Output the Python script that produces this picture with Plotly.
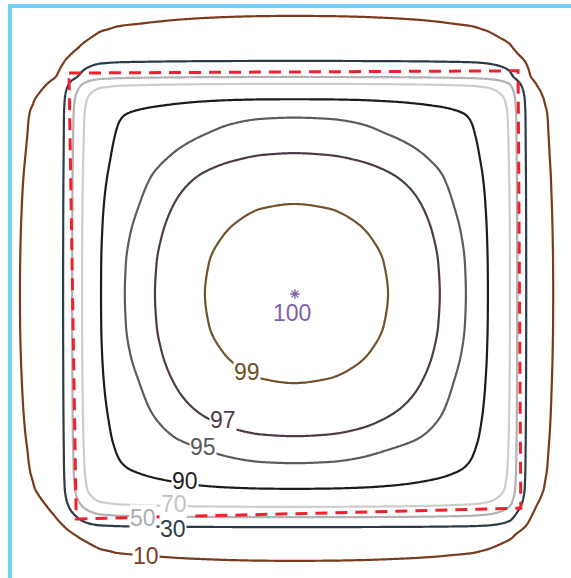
import numpy as np
import plotly.graph_objects as go

# Dose profiles through the central axis (position in cm, relative dose in %)
x_cm = [-6.6, -6.09, -5.9, -5.74, -5.62, -5.52, -5.42, -5.32, -5.22, -5.13, -5.03, -4.93,
        -4.82, -4.71, -4.52, -4.29, -4.12, -3.95, -3.76, -3.42, -3.09, -2.55, -1.98, -1.3,
        -0.7, 0.0,
        0.75, 1.4, 2.09, 2.7, 3.24, 3.53, 3.82, 4.0, 4.17, 4.31, 4.58, 4.8, 4.88, 4.96,
        5.06, 5.16, 5.22, 5.28, 5.34, 5.40, 5.47, 5.54, 5.64, 5.76, 6.3]
x_dose = [9.0, 10.0, 10.5, 11.2, 12.2, 13.6, 15.8, 19.0, 24.0, 30.0, 40.0, 50.0,
          60.0, 70.0, 82.0, 90.0, 92.0, 94.0, 95.0, 96.0, 97.0, 98.2, 99.0, 99.6,
          99.9, 100.0,
          99.9, 99.6, 99.0, 98.2, 97.0, 96.0, 95.0, 94.0, 92.0, 90.0, 82.0, 70.0, 60.0, 50.0,
          40.0, 30.0, 24.0, 19.0, 15.8, 13.6, 12.2, 11.2, 10.5, 10.0, 9.0]

y_cm = [-6.45, -5.93, -5.78, -5.66, -5.56, -5.48, -5.41, -5.33, -5.25, -5.18, -5.07, -4.96,
        -4.85, -4.73, -4.55, -4.33, -4.16, -3.96, -3.76, -3.45, -3.16, -2.6, -1.98, -1.3,
        -0.7, 0.0,
        0.7, 1.3, 2.0, 2.6, 3.13, 3.53, 3.92, 4.08, 4.21, 4.33, 4.52, 4.67, 4.75, 4.82,
        5.0, 5.18, 5.27, 5.38, 5.48, 5.59, 5.69, 5.82, 5.98, 6.18, 6.71]
y_dose = [9.0, 10.0, 10.5, 11.2, 12.2, 13.6, 15.8, 19.0, 24.0, 30.0, 40.0, 50.0,
          60.0, 70.0, 82.0, 90.0, 92.0, 94.0, 95.0, 96.0, 97.0, 98.2, 99.0, 99.6,
          99.9, 100.0,
          99.9, 99.6, 99.0, 98.2, 97.0, 96.0, 95.0, 94.0, 92.0, 90.0, 82.0, 70.0, 60.0, 50.0,
          40.0, 30.0, 24.0, 19.0, 15.8, 13.6, 12.2, 11.2, 10.5, 10.0, 9.0]

# Isodose levels and their colours
levels = [10, 30, 50, 70, 90, 95, 97, 99]
line_colors = ["#7a3b1c", "#2c3c47", "#b2b2b2", "#cdcdcd", "#1c1c1c", "#5c5c5c", "#4e3a48", "#74522a"]
label_colors = ["#7a3f22", "#2e3d48", "#a9adb3", "#c2c2c2", "#1e1e1e", "#565a5e", "#4f3b4a", "#6e5024"]
max_color = "#7f5fae"

# Field edge (50 % outline)
field_x = [-5.0, 4.98, 5.04, -4.84, -5.0]
field_y = [4.91, 4.96, -4.76, -5.0, 4.91]

# Dose maximum
max_x = [0.02]
max_y = [0.0]
max_dose = 100


def pchip(xk, yk, xq):
    """Monotone piecewise-cubic Hermite interpolation (Fritsch-Carlson)."""
    xk = np.asarray(xk, float)
    yk = np.asarray(yk, float)
    h = np.diff(xk)
    d = np.diff(yk) / h
    n = len(xk)
    m = np.zeros(n)
    for k in range(1, n - 1):
        if d[k - 1] * d[k] > 0:
            w1 = 2 * h[k] + h[k - 1]
            w2 = h[k] + 2 * h[k - 1]
            m[k] = (w1 + w2) / (w1 / d[k - 1] + w2 / d[k])
    m[0] = d[0]
    m[-1] = d[-1]
    xq = np.asarray(xq, float)
    i = np.clip(np.searchsorted(xk, xq) - 1, 0, n - 2)
    t = (xq - xk[i]) / h[i]
    h00 = 2 * t**3 - 3 * t**2 + 1
    h10 = t**3 - 2 * t**2 + t
    h01 = -2 * t**3 + 3 * t**2
    h11 = t**3 - t**2
    return h00 * yk[i] + h10 * h[i] * m[i] + h01 * yk[i + 1] + h11 * h[i] * m[i + 1]


# Dose table on a fine grid: product of the two axis profiles
gx = np.arange(x_cm[0], x_cm[-1] + 1e-9, 0.04)
gy = np.arange(y_cm[0], y_cm[-1] + 1e-9, 0.04)
dose = np.outer(pchip(y_cm, y_dose, gy), pchip(x_cm, x_dose, gx)) / 100.0

W, H = 571, 578
CX, CY, SCALE = 294, 294, 45.0  # centre pixel and pixels per cm


def px_to_x(px):
    return (px - CX) / SCALE


def py_to_y(py):
    return (CY - py) / SCALE


fig = go.Figure()

for lvl, col in zip(levels, line_colors):
    fig.add_trace(go.Contour(
        x=gx, y=gy, z=dose,
        autocontour=False,
        contours=dict(start=lvl, end=lvl, size=1, coloring="none", showlabels=False),
        line=dict(color=col, width=2.2, smoothing=1.0),
        showscale=False, hoverinfo="skip",
    ))

fig.add_trace(go.Scatter(
    x=field_x, y=field_y, mode="lines",
    line=dict(color="#f0202e", width=3, dash="12px,8px"),
    hoverinfo="skip", showlegend=False,
))

# Dose maximum marker
fig.add_trace(go.Scatter(
    x=max_x, y=max_y, mode="markers",
    marker=dict(symbol="asterisk-open", size=8, color=max_color,
                line=dict(color=max_color, width=1.3)),
    hoverinfo="skip", showlegend=False,
))

# Label placement (pixel centres)
label_pos = {10: (146, 556), 30: (173, 529), 50: (143, 518), 70: (174, 504),
             90: (185, 481), 95: (203, 447), 97: (223, 420), 99: (247, 372)}

font_family = "Liberation Sans, Arial"
annotations = []
for lvl, col in zip(levels, label_colors):
    px, py = label_pos[lvl]
    annotations.append(dict(
        x=px_to_x(px), y=py_to_y(py), xref="x", yref="y",
        text=str(lvl), showarrow=False,
        font=dict(family=font_family, size=23, color=col),
        bgcolor="white", borderpad=0,
    ))
annotations.append(dict(
    x=px_to_x(292), y=py_to_y(313), xref="x", yref="y",
    text=str(max_dose), showarrow=False,
    font=dict(family=font_family, size=23, color=max_color),
))

border = "#72d0f4"
shapes = [
    dict(type="line", xref="paper", yref="paper", x0=8 / W, x1=1.0,
         y0=1 - 6 / H, y1=1 - 6 / H, line=dict(color=border, width=4)),
    dict(type="line", xref="paper", yref="paper", x0=10 / W, x1=10 / W,
         y0=0.0, y1=1 - 4 / H, line=dict(color=border, width=4)),
]

fig.update_layout(
    width=W, height=H,
    margin=dict(l=0, r=0, t=0, b=0),
    paper_bgcolor="white", plot_bgcolor="white",
    showlegend=False,
    xaxis=dict(range=[px_to_x(0), px_to_x(W)], visible=False, showgrid=False, zeroline=False),
    yaxis=dict(range=[py_to_y(H), py_to_y(0)], visible=False, showgrid=False, zeroline=False),
    annotations=annotations,
    shapes=shapes,
)

fig.write_html("out.html")
